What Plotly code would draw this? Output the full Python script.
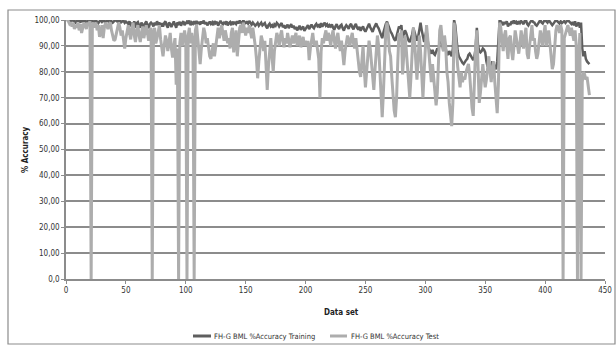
import plotly.graph_objects as go

# Training accuracy (%) per data set
training = [
    99.5,100,99,100,99.8,100,99.5,99,100,99.7,
    99.8,99,100,99.5,99.7,100,99,99.5,100,99.8,
    99.5,100,99,99.5,100,99.2,98.8,99.5,100,99.3,
    100,99.5,99,100,99.7,99.2,100,99.6,99,99.5,
    99.8,100,99.3,99.6,100,99.1,99.5,99.8,98.9,99.4,
    99,98.5,99.5,97.5,99,98,99.5,97,98.8,99.2,
    98,97,99,98.3,96.5,98.7,99.5,97.8,96.8,98.5,
    99,98.5,97.5,99,98,99.5,98.4,99,97.5,98.8,
    97.5,98.8,99.5,98,97,99,98.5,97.3,98.6,99.4,
    98.2,97,99,98.5,99.3,97.8,98.9,99.5,98,99,
    99.4,98.6,99.8,98,99,98.5,99.5,98.3,99.6,98.8,
    99,98.2,99.5,98.7,99.8,98.4,99.2,97.9,98.9,99.4,
    98.5,99.1,98,99.6,98.8,99.3,97.8,98.5,99.7,98.9,
    98.3,99,98.6,99.5,97.9,98.8,99.2,98,99.4,98.6,
    99,98.4,99.5,98.7,99.7,99.1,98.5,99.8,99.3,98.8,
    99.2,98.6,99.6,98.9,98.2,99,98.5,97.8,98.3,98.9,
    97.8,98.5,99,97.9,98.2,98.8,97.5,96.8,98,98.6,
    97.5,98,97,98.3,97.8,98.9,98.4,97.5,98.2,98.8,
    97.2,98,96.8,97.7,98.2,96.9,97.5,98.4,97.1,97.8,
    96.5,97.3,96,97,97.8,96.2,96.8,97.5,95.8,96.6,
    97,98,96.5,97.5,98.2,97.3,96.8,97.9,98.5,97.6,
    98,97,98.8,97.5,98.5,99,97.8,98.3,97.2,98,
    97.5,98.3,97,96.2,97.6,98.4,97.1,96.5,97.8,98.2,
    96.8,95.9,97.2,98,97.4,96.6,97.9,98.5,97.2,96.4,
    97.8,98.5,97,96.3,97.4,95.8,96.9,97.5,96.2,95.5,
    96.5,97.8,98.6,97.2,96,95.4,96.8,97.9,98.7,97.5,
    96.8,95.5,94,93,95.2,97,98.5,99.4,98,96.5,
    95.5,94.8,93.5,92.5,92,93.8,95.6,97.5,96.8,98,
    93,94.5,96,95,93.5,92,91.5,92.8,94.5,97,
    95,93,92,93.5,97,99,96,93,91.5,94,
    96,92,89,88,87,88.5,87,86.5,87.5,89,
    88,92,95,91,88,90,89,87,86.5,88,
    87,86,89,100,98,92,88,86,85,84,
    83.5,83,84,84.5,85,86.5,87,86,85,84.5,
    86,89,97,90,88,87.5,88,89,88.5,87.5,
    84,82,83,81.5,82.5,84,83,82,81,84,
    92,100,99.5,99,98,99.3,98.5,99.5,97.5,98.8,
    98,99.5,99,100,98.6,99.2,98.3,99.5,98.8,99.6,
    99,98.4,99.7,100,98.5,97.9,98.8,99.6,100,99.2,
    99,98.2,97.8,98.5,99.4,100,99,98.6,99.5,100,
    99.5,99,100,99.3,98.5,98,98.6,99.4,100,99.6,
    99,98.7,99.5,98.8,99.2,99.6,98.9,99.3,100,99.5,
    99,98.5,99.2,98,99.5,97.5,98.5,99,97,99,
    89,86,88,85,84,83.5,83,
]

# Test accuracy (%) per data set
test = [
    100,99.5,98.5,99,97.5,99,96.5,98,97,99,
    96,98.5,95,97,99,98,96.5,99,98,99.5,
    0,98,99,97,99,96,98,93.5,95,98,
    93,97,99,98,96.5,98.5,99,96,93.5,92,
    92.5,95,98,99,97,94,96,91,89,93,
    96,98,95,92.5,97,99,94,91.5,96,98,
    94,91.5,95,97.5,93,96,98,95,92,96,
    97,0,95,97,91,93,95.5,98,92.5,88.5,
    86,90,94,92,88,91.5,95,89,85.5,90,
    93,75,89,0,91,95,90,93,96,92,
    0,94,97,91,95,92,0,96,98,93,
    88,83,89,94,97,95,91,93,90,86,
    85,88,91,86,90,95,97,93,96,98,
    95,92,96,94,91,93,89,95,97,87.5,
    92,96,86,93,97,98,95,99,96,94,
    97,95,98,96,93,97,94,90,85,77.5,
    84,90,94,92,88,92,83,73,82,90,
    93,86,80,88,92,95,93,90,94,96,
    92,89.5,93,91,95,92,89.5,92,94,91,
    93,95,90,92,94,89.5,91,93.5,90,92,
    90,92,84.5,89,93,95,91,90,92,88,
    85,70,88,93,91,94,96,92,95,93,
    90,94,96,92,89,93,95,91,88,92,
    87,82.6,88,91,94,92,90,93,95,91,
    89,93,88,84,80,78,85,90,81,74,
    80,87,92,89,83,77,73,81,90,94,
    90,80,70,62.5,72,85,96,99,95,88,
    86,78,71,65,62.5,70,84,95,92,96,
    79,86,94,89,81,74,70,78,88,97,
    92,84,77,85,94,88,76,70,80,92,
    98,93,86,80,76,83,78,74,67,72,
    82,96,98,92,88,94,90,80,76,68,
    64,59,68,99,95,86,82,78,74,80,
    76,78,77,80,82,83,79,72,66,63,
    80,90,96,84,68,72,80,83,78,74,
    77,82,86,80,76,82,84,76,68,64,
    75,99,97,92,88,94,96,90,85,93,
    94,88,84.5,90,96,93,89,87,91,96,
    92,89,94,97,87,85,90,95,98,92,
    93,88,85,87,92,96,93,90,95,98,
    90,93,96,91,85,81,83,90,96,98,
    97,95,98,96,0,93,95,97,98,96,
    94,97,95,92,96,90,0,85,95,0,
    76,80,79,77,78,74,71,
]

dataset = list(range(1, len(training) + 1))

series_names = ["FH-G BML %Accuracy Training", "FH-G BML %Accuracy Test"]
y_tick_values = [0, 10, 20, 30, 40, 50, 60, 70, 80, 90, 100]
y_tick_labels = ["0,0", "10,00", "20,00", "30,00", "40,00", "50,00",
                 "60,00", "70,00", "80,00", "90,00", "100,00"]
x_tick_values = [0, 50, 100, 150, 200, 250, 300, 350, 400, 450]

DARK = "#5e5e5e"
LIGHT = "#adadad"
GRID = "#8c8c8c"
FONT = "Liberation Sans Narrow, DejaVu Sans Condensed, Arial Narrow, sans-serif"

fig = go.Figure()
fig.add_trace(go.Scatter(x=dataset, y=training, mode="lines", name=series_names[0],
                         line=dict(color=DARK, width=2.5), showlegend=False))
fig.add_trace(go.Scatter(x=dataset, y=test, mode="lines", name=series_names[1],
                         line=dict(color=LIGHT, width=3), showlegend=False))

W, H = 616, 345
L, R, T, B = 66, 11, 20, 66
pw, ph = W - L - R, H - T - B

def px_x(p):
    return (p - L) / pw

def px_y(p):
    return (H - B - p) / ph

fig.update_layout(
    width=W, height=H,
    margin=dict(l=L, r=R, t=T, b=B, autoexpand=False),
    paper_bgcolor="white", plot_bgcolor="white",
    font=dict(family=FONT, size=8, color="#333333"),
    xaxis=dict(range=[0, 450], tickvals=x_tick_values, ticks="outside", ticklen=3,
               tickcolor=GRID, showline=True, linecolor=GRID, linewidth=1.5,
               showgrid=False, zeroline=False, tickfont=dict(size=8),
               automargin=False),
    yaxis=dict(range=[0, 100], tickvals=y_tick_values, ticktext=y_tick_labels,
               ticks="outside", ticklen=3, tickcolor=GRID, showline=True,
               linecolor=GRID, linewidth=1.5, showgrid=True, gridcolor=GRID,
               gridwidth=1.5, zeroline=False, tickfont=dict(size=8),
               automargin=False),
)

shapes = [
    dict(type="rect", xref="paper", yref="paper",
         x0=px_x(8), x1=px_x(615), y0=px_y(344), y1=px_y(10),
         line=dict(color="#8c8c8c", width=1.2)),
    dict(type="line", xref="paper", yref="paper",
         x0=px_x(193), x1=px_x(211), y0=px_y(336), y1=px_y(336),
         line=dict(color=DARK, width=3)),
    dict(type="line", xref="paper", yref="paper",
         x0=px_x(330), x1=px_x(347), y0=px_y(336), y1=px_y(336),
         line=dict(color=LIGHT, width=3)),
]
fig.update_layout(shapes=shapes)

annotations = [
    dict(text="<b>% Accuracy</b>", xref="paper", yref="paper", x=px_x(25), y=px_y(150),
         textangle=-90, showarrow=False, font=dict(size=8, color="#222222"),
         xanchor="center", yanchor="middle"),
    dict(text="<b>Data set</b>", xref="paper", yref="paper", x=px_x(341), y=px_y(312),
         showarrow=False, font=dict(size=8, color="#222222"),
         xanchor="center", yanchor="middle"),
    dict(text=series_names[0], xref="paper", yref="paper", x=px_x(212), y=px_y(336),
         showarrow=False, font=dict(size=7.5, color="#333333"),
         xanchor="left", yanchor="middle"),
    dict(text=series_names[1], xref="paper", yref="paper", x=px_x(349), y=px_y(336),
         showarrow=False, font=dict(size=7.5, color="#333333"),
         xanchor="left", yanchor="middle"),
]
fig.update_layout(annotations=annotations)

fig.write_html("out.html")
